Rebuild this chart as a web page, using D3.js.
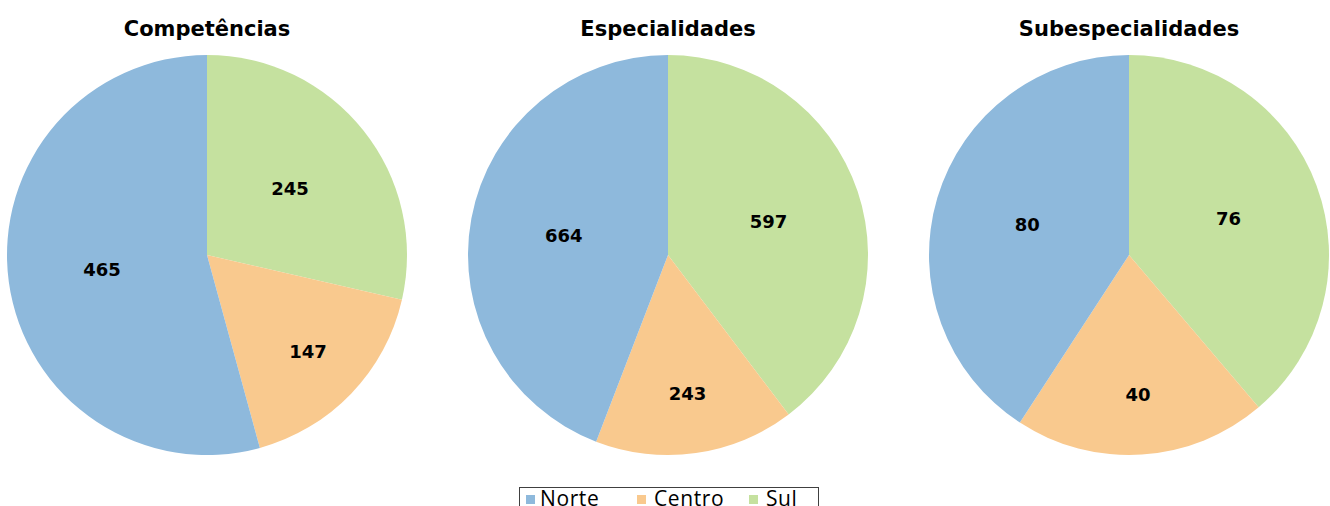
<!DOCTYPE html>
<html lang="pt">
  <head>
    <meta charset="UTF-8" />
    <title>Competências, Especialidades e Subespecialidades</title>
    <style>
      body { margin: 0; background: #fff; }
      svg { display: block; }
      .title { font-family: "DejaVu Sans", sans-serif; font-weight: 700; font-size: 21px; fill: #000; }
      .value { font-family: "DejaVu Sans", sans-serif; font-weight: 700; font-size: 18px; fill: #000; }
      .legend text { font-family: "Open Sans", sans-serif; font-size: 21px; letter-spacing: 0.6px; fill: #000; }
    </style>
  </head>
  <body>
    <script src="https://cdn.jsdelivr.net/npm/d3@7"></script>
    <script>
      // data
      var charts = ["Competências", "Especialidades", "Subespecialidades"];
      var regions = ["Norte", "Centro", "Sul"];
      var norte = [465, 664, 80];
      var centro = [147, 243, 40];
      var sul = [245, 597, 76];
      var colors = ["#8eb9dc", "#f9c98e", "#c5e19f"];

      var w = 1330,
          h = 506;
      var radius = 200,
          cy = 255;

      var svg = d3.select("body").append("svg")
        .attr("width", w)
        .attr("height", h);

      var xScale = d3.scalePoint()
        .domain(charts)
        .range([207, 1129]);

      var color = d3.scaleOrdinal()
        .domain(regions)
        .range(colors);

      // slices go clockwise from 12 o'clock: Sul, Centro, Norte
      var pie = d3.pie()
        .sort(null)
        .value(function(d) { return d.value; });

      var arc = d3.arc()
        .innerRadius(0)
        .outerRadius(radius);

      // small slices get their label further out
      function labelPos(d) {
        var r = (d.endAngle - d.startAngle) < Math.PI / 2 ? radius * 0.7 : radius * 0.53;
        return d3.arc().innerRadius(r).outerRadius(r).centroid(d);
      }

      charts.forEach(function(name, i) {
        var slices = [
          { region: "Sul", value: sul[i] },
          { region: "Centro", value: centro[i] },
          { region: "Norte", value: norte[i] }
        ];

        var g = svg.append("g")
          .attr("transform", "translate(" + xScale(name) + "," + cy + ")");

        var arcs = g.selectAll("g.slice")
          .data(pie(slices))
          .enter()
          .append("g")
          .attr("class", "slice");

        arcs.append("path")
          .attr("d", arc)
          .attr("fill", function(d) { return color(d.data.region); });

        arcs.append("text")
          .attr("class", "value")
          .attr("text-anchor", "middle")
          .attr("dy", "0.36em")
          .attr("transform", function(d) { return "translate(" + labelPos(d) + ")"; })
          .text(function(d) { return d.data.value; });

        svg.append("text")
          .attr("class", "title")
          .attr("x", xScale(name))
          .attr("y", 36)
          .attr("text-anchor", "middle")
          .text(name);
      });

      // legend
      var legend = svg.append("g")
        .attr("class", "legend");

      legend.append("rect")
        .attr("x", 519.5)
        .attr("y", 487.5)
        .attr("width", 299)
        .attr("height", 30)
        .attr("fill", "#fff")
        .attr("stroke", "#404040")
        .attr("stroke-width", 1);

      var legendX = d3.scaleOrdinal()
        .domain(regions)
        .range([526, 637, 749]);

      var items = legend.selectAll("g.item")
        .data(regions)
        .enter()
        .append("g")
        .attr("class", "item")
        .attr("transform", function(d) { return "translate(" + legendX(d) + ",0)"; });

      items.append("rect")
        .attr("x", 0)
        .attr("y", 495)
        .attr("width", 9)
        .attr("height", 9)
        .attr("fill", function(d) { return color(d); });

      items.append("text")
        .attr("x", function(d, i) { return i === 0 ? 14 : 17; })
        .attr("y", 506)
        .text(function(d) { return d; });
    </script>
  </body>
</html>
